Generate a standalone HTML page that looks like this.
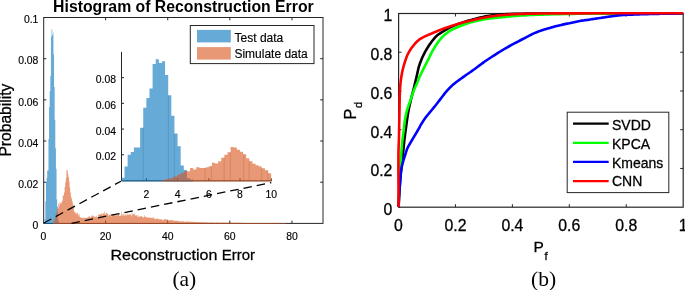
<!DOCTYPE html>
<html><head><meta charset="utf-8"><style>
html,body{margin:0;padding:0;background:#fff;}
svg{display:block;will-change:transform;}
text{font-family:"Liberation Sans",sans-serif;fill:#000;stroke:#000;stroke-width:0.28px;}
.serif{font-family:"Liberation Serif",serif;stroke:none;}
.nb{stroke:none;}
.sm{stroke-width:0.15px;}
</style></head><body>
<svg width="685" height="290" viewBox="0 0 685 290">
<rect width="685" height="290" fill="#fff"/>
<!-- LEFT MAIN HISTOGRAM -->
<rect x="43.7" y="17.5" width="279.3" height="205.9" fill="none" stroke="#262626" stroke-width="1"/>
<path d="M105.61,223.40 V220.60 M105.61,17.50 V20.30 M167.72,223.40 V220.60 M167.72,17.50 V20.30 M229.83,223.40 V220.60 M229.83,17.50 V20.30 M291.94,223.40 V220.60 M291.94,17.50 V20.30 M43.50,182.22 H46.30 M323.00,182.22 H320.20 M43.50,141.04 H46.30 M323.00,141.04 H320.20 M43.50,99.86 H46.30 M323.00,99.86 H320.20 M43.50,58.68 H46.30 M323.00,58.68 H320.20" stroke="#262626" stroke-width="1" fill="none"/>
<path d="M44.73,224.00 L44.73,219.08 L45.36,219.08 L45.36,201.14 L45.98,201.14 L45.98,182.25 L46.60,182.25 L46.60,177.77 L47.22,177.77 L47.22,170.40 L47.84,170.40 L47.84,170.40 L48.46,170.40 L48.46,139.02 L49.08,139.02 L49.08,107.00 L49.70,107.00 L49.70,91.31 L50.32,91.31 L50.32,76.10 L50.95,76.10 L50.95,36.87 L51.57,36.87 L51.57,29.19 L52.19,29.19 L52.19,35.27 L52.81,35.27 L52.81,32.55 L53.43,32.55 L53.43,54.49 L54.05,54.49 L54.05,86.99 L54.67,86.99 L54.67,119.81 L55.29,119.81 L55.29,148.15 L55.91,148.15 L55.91,168.64 L56.54,168.64 L56.54,199.38 L57.16,199.38 L57.16,206.59 L57.78,206.59 L57.78,219.72 L58.40,219.72 L58.40,221.80 L59.02,221.80 L59.02,224.00 Z" fill="#0072bd" fill-opacity="0.6"/>
<path d="M52.81,224.00 L52.81,222.60 L53.43,222.60 L53.43,221.48 L54.05,221.48 L54.05,220.20 L54.67,220.20 L54.67,218.44 L55.29,218.44 L55.29,216.68 L55.91,216.68 L55.91,213.79 L56.54,213.79 L56.54,211.39 L57.16,211.39 L57.16,208.51 L57.78,208.51 L57.78,208.51 L58.40,208.51 L58.40,203.39 L59.02,203.39 L59.02,205.63 L59.64,205.63 L59.64,202.11 L60.26,202.11 L60.26,203.39 L60.88,203.39 L60.88,203.39 L61.50,203.39 L61.50,202.11 L62.13,202.11 L62.13,200.50 L62.75,200.50 L62.75,194.90 L63.37,194.90 L63.37,196.02 L63.99,196.02 L63.99,192.50 L64.61,192.50 L64.61,187.06 L65.23,187.06 L65.23,182.25 L65.85,182.25 L65.85,178.09 L66.47,178.09 L66.47,169.92 L67.09,169.92 L67.09,170.40 L67.72,170.40 L67.72,174.09 L68.34,174.09 L68.34,177.29 L68.96,177.29 L68.96,181.45 L69.58,181.45 L69.58,187.86 L70.20,187.86 L70.20,192.50 L70.82,192.50 L70.82,196.66 L71.44,196.66 L71.44,198.90 L72.06,198.90 L72.06,201.14 L72.68,201.14 L72.68,203.87 L73.31,203.87 L73.31,207.07 L73.93,207.07 L73.93,211.87 L74.55,211.87 L74.55,212.43 L75.17,212.43 L75.17,212.00 L75.79,212.00 L75.79,214.15 L76.41,214.15 L76.41,213.55 L77.03,213.55 L77.03,212.39 L77.65,212.39 L77.65,213.46 L78.27,213.46 L78.27,215.66 L78.90,215.66 L78.90,213.93 L79.52,213.93 L79.52,217.02 L80.14,217.02 L80.14,217.73 L80.76,217.73 L80.76,217.00 L81.38,217.00 L81.38,218.06 L82.00,218.06 L82.00,217.98 L82.62,217.98 L82.62,218.06 L83.24,218.06 L83.24,218.09 L83.86,218.09 L83.86,217.68 L84.49,217.68 L84.49,218.31 L85.11,218.31 L85.11,217.94 L85.73,217.94 L85.73,217.92 L86.35,217.92 L86.35,218.10 L86.97,218.10 L86.97,217.86 L87.59,217.86 L87.59,216.99 L88.21,216.99 L88.21,216.97 L88.83,216.97 L88.83,215.90 L89.45,215.90 L89.45,216.76 L90.08,216.76 L90.08,217.19 L90.70,217.19 L90.70,217.62 L91.32,217.62 L91.32,215.82 L91.94,215.82 L91.94,215.28 L92.56,215.28 L92.56,216.05 L93.18,216.05 L93.18,215.78 L93.80,215.78 L93.80,216.69 L94.42,216.69 L94.42,216.92 L95.04,216.92 L95.04,216.51 L95.67,216.51 L95.67,217.20 L96.29,217.20 L96.29,215.67 L96.91,215.67 L96.91,217.25 L97.53,217.25 L97.53,217.60 L98.15,217.60 L98.15,215.00 L98.77,215.00 L98.77,213.96 L99.39,213.96 L99.39,214.42 L100.01,214.42 L100.01,214.28 L100.63,214.28 L100.63,214.33 L101.26,214.33 L101.26,213.17 L101.88,213.17 L101.88,215.25 L102.50,215.25 L102.50,213.43 L103.12,213.43 L103.12,213.12 L103.74,213.12 L103.74,214.18 L104.36,214.18 L104.36,211.47 L104.98,211.47 L104.98,215.34 L105.60,215.34 L105.60,213.43 L106.22,213.43 L106.22,212.73 L106.85,212.73 L106.85,213.52 L107.47,213.52 L107.47,213.42 L108.09,213.42 L108.09,215.98 L108.71,215.98 L108.71,214.69 L109.33,214.69 L109.33,214.99 L109.95,214.99 L109.95,215.07 L110.57,215.07 L110.57,213.85 L111.19,213.85 L111.19,216.41 L111.81,216.41 L111.81,214.97 L112.44,214.97 L112.44,214.47 L113.06,214.47 L113.06,214.27 L113.68,214.27 L113.68,214.72 L114.30,214.72 L114.30,215.08 L114.92,215.08 L114.92,215.22 L115.54,215.22 L115.54,215.48 L116.16,215.48 L116.16,215.32 L116.78,215.32 L116.78,215.21 L117.40,215.21 L117.40,215.20 L118.03,215.20 L118.03,214.58 L118.65,214.58 L118.65,214.54 L119.27,214.54 L119.27,215.99 L119.89,215.99 L119.89,215.53 L120.51,215.53 L120.51,215.66 L121.13,215.66 L121.13,211.54 L121.75,211.54 L121.75,215.87 L122.37,215.87 L122.37,214.13 L122.99,214.13 L122.99,213.49 L123.62,213.49 L123.62,215.44 L124.24,215.44 L124.24,215.47 L124.86,215.47 L124.86,214.56 L125.48,214.56 L125.48,214.70 L126.10,214.70 L126.10,215.57 L126.72,215.57 L126.72,212.73 L127.34,212.73 L127.34,214.67 L127.96,214.67 L127.96,214.41 L128.58,214.41 L128.58,214.96 L129.21,214.96 L129.21,213.88 L129.83,213.88 L129.83,213.95 L130.45,213.95 L130.45,214.90 L131.07,214.90 L131.07,216.51 L131.69,216.51 L131.69,211.73 L132.31,211.73 L132.31,214.55 L132.93,214.55 L132.93,214.39 L133.55,214.39 L133.55,213.97 L134.17,213.97 L134.17,213.25 L134.80,213.25 L134.80,215.91 L135.42,215.91 L135.42,214.86 L136.04,214.86 L136.04,215.47 L136.66,215.47 L136.66,214.98 L137.28,214.98 L137.28,216.94 L137.90,216.94 L137.90,215.60 L138.52,215.60 L138.52,216.73 L139.14,216.73 L139.14,216.90 L139.76,216.90 L139.76,215.97 L140.39,215.97 L140.39,216.33 L141.01,216.33 L141.01,216.26 L141.63,216.26 L141.63,216.54 L142.25,216.54 L142.25,217.15 L142.87,217.15 L142.87,217.22 L143.49,217.22 L143.49,217.49 L144.11,217.49 L144.11,215.16 L144.73,215.16 L144.73,216.93 L145.35,216.93 L145.35,216.51 L145.98,216.51 L145.98,217.55 L146.60,217.55 L146.60,217.22 L147.22,217.22 L147.22,216.94 L147.84,216.94 L147.84,217.94 L148.46,217.94 L148.46,217.85 L149.08,217.85 L149.08,217.17 L149.70,217.17 L149.70,218.05 L150.32,218.05 L150.32,217.28 L150.94,217.28 L150.94,218.24 L151.57,218.24 L151.57,217.95 L152.19,217.95 L152.19,218.17 L152.81,218.17 L152.81,217.05 L153.43,217.05 L153.43,218.14 L154.05,218.14 L154.05,218.35 L154.67,218.35 L154.67,219.01 L155.29,219.01 L155.29,219.29 L155.91,219.29 L155.91,218.77 L156.53,218.77 L156.53,218.51 L157.16,218.51 L157.16,218.16 L157.78,218.16 L157.78,219.47 L158.40,219.47 L158.40,219.06 L159.02,219.06 L159.02,219.26 L159.64,219.26 L159.64,219.25 L160.26,219.25 L160.26,219.54 L160.88,219.54 L160.88,218.89 L161.50,218.89 L161.50,219.46 L162.12,219.46 L162.12,220.15 L162.75,220.15 L162.75,220.35 L163.37,220.35 L163.37,219.84 L163.99,219.84 L163.99,219.23 L164.61,219.23 L164.61,219.35 L165.23,219.35 L165.23,219.22 L165.85,219.22 L165.85,219.60 L166.47,219.60 L166.47,219.62 L167.09,219.62 L167.09,219.57 L167.71,219.57 L167.71,219.43 L168.34,219.43 L168.34,220.81 L168.96,220.81 L168.96,220.56 L169.58,220.56 L169.58,220.06 L170.20,220.06 L170.20,220.16 L170.82,220.16 L170.82,220.11 L171.44,220.11 L171.44,220.37 L172.06,220.37 L172.06,219.78 L172.68,219.78 L172.68,220.63 L173.30,220.63 L173.30,220.61 L173.93,220.61 L173.93,220.79 L174.55,220.79 L174.55,220.74 L175.17,220.74 L175.17,220.66 L175.79,220.66 L175.79,220.27 L176.41,220.27 L176.41,220.92 L177.03,220.92 L177.03,220.81 L177.65,220.81 L177.65,220.91 L178.27,220.91 L178.27,221.23 L178.89,221.23 L178.89,221.45 L179.52,221.45 L179.52,221.31 L180.14,221.31 L180.14,221.29 L180.76,221.29 L180.76,221.47 L181.38,221.47 L181.38,221.56 L182.00,221.56 L182.00,221.64 L182.62,221.64 L182.62,220.98 L183.24,220.98 L183.24,221.25 L183.86,221.25 L183.86,221.93 L184.48,221.93 L184.48,221.68 L185.11,221.68 L185.11,221.71 L185.73,221.71 L185.73,221.61 L186.35,221.61 L186.35,221.49 L186.97,221.49 L186.97,221.60 L187.59,221.60 L187.59,221.66 L188.21,221.66 L188.21,221.86 L188.83,221.86 L188.83,221.75 L189.45,221.75 L189.45,221.37 L190.07,221.37 L190.07,221.89 L190.70,221.89 L190.70,221.85 L191.32,221.85 L191.32,221.59 L191.94,221.59 L191.94,221.68 L192.56,221.68 L192.56,221.81 L193.18,221.81 L193.18,222.07 L193.80,222.07 L193.80,221.81 L194.42,221.81 L194.42,222.00 L195.04,222.00 L195.04,222.11 L195.66,222.11 L195.66,222.15 L196.29,222.15 L196.29,222.03 L196.91,222.03 L196.91,222.05 L197.53,222.05 L197.53,222.09 L198.15,222.09 L198.15,222.10 L198.77,222.10 L198.77,222.23 L199.39,222.23 L199.39,222.28 L200.01,222.28 L200.01,222.28 L200.63,222.28 L200.63,222.20 L201.25,222.20 L201.25,221.91 L201.88,221.91 L201.88,222.34 L202.50,222.34 L202.50,222.17 L203.12,222.17 L203.12,222.18 L203.74,222.18 L203.74,222.45 L204.36,222.45 L204.36,222.30 L204.98,222.30 L204.98,222.25 L205.60,222.25 L205.60,222.35 L206.22,222.35 L206.22,222.35 L206.84,222.35 L206.84,222.38 L207.47,222.38 L207.47,222.52 L208.09,222.52 L208.09,222.49 L208.71,222.49 L208.71,222.48 L209.33,222.48 L209.33,222.66 L209.95,222.66 L209.95,222.41 L210.57,222.41 L210.57,222.49 L211.19,222.49 L211.19,222.32 L211.81,222.32 L211.81,222.47 L212.43,222.47 L212.43,222.55 L213.06,222.55 L213.06,222.72 L213.68,222.72 L213.68,222.74 L214.30,222.74 L214.30,222.59 L214.92,222.59 L214.92,222.75 L215.54,222.75 L215.54,222.69 L216.16,222.69 L216.16,222.60 L216.78,222.60 L216.78,222.59 L217.40,222.59 L217.40,222.49 L218.02,222.49 L218.02,222.53 L218.65,222.53 L218.65,222.73 L219.27,222.73 L219.27,222.56 L219.89,222.56 L219.89,222.66 L220.51,222.66 L220.51,222.76 L221.13,222.76 L221.13,222.55 L221.75,222.55 L221.75,222.63 L222.37,222.63 L222.37,222.70 L222.99,222.70 L222.99,222.57 L223.61,222.57 L223.61,222.62 L224.24,222.62 L224.24,222.73 L224.86,222.73 L224.86,222.77 L225.48,222.77 L225.48,222.84 L226.10,222.84 L226.10,222.70 L226.72,222.70 L226.72,222.73 L227.34,222.73 L227.34,222.77 L227.96,222.77 L227.96,222.68 L228.58,222.68 L228.58,222.82 L229.20,222.82 L229.20,222.87 L229.83,222.87 L229.83,222.86 L230.45,222.86 L230.45,222.80 L231.07,222.80 L231.07,222.76 L231.69,222.76 L231.69,222.83 L232.31,222.83 L232.31,222.73 L232.93,222.73 L232.93,222.80 L233.55,222.80 L233.55,222.86 L234.17,222.86 L234.17,222.80 L234.79,222.80 L234.79,222.80 L235.42,222.80 L235.42,222.75 L236.04,222.75 L236.04,222.80 L236.66,222.80 L236.66,222.85 L237.28,222.85 L237.28,222.77 L237.90,222.77 L237.90,222.91 L238.52,222.91 L238.52,222.79 L239.14,222.79 L239.14,222.86 L239.76,222.86 L239.76,222.87 L240.38,222.87 L240.38,222.84 L241.01,222.84 L241.01,222.87 L241.63,222.87 L241.63,222.88 L242.25,222.88 L242.25,222.79 L242.87,222.79 L242.87,222.80 L243.49,222.80 L243.49,222.91 L244.11,222.91 L244.11,222.85 L244.73,222.85 L244.73,222.95 L245.35,222.95 L245.35,222.94 L245.97,222.94 L245.97,222.89 L246.60,222.89 L246.60,222.91 L247.22,222.91 L247.22,222.89 L247.84,222.89 L247.84,222.94 L248.46,222.94 L248.46,222.91 L249.08,222.91 L249.08,222.89 L249.70,222.89 L249.70,222.92 L250.32,222.92 L250.32,223.01 L250.94,223.01 L250.94,222.93 L251.56,222.93 L251.56,222.98 L252.19,222.98 L252.19,222.96 L252.81,222.96 L252.81,222.92 L253.43,222.92 L253.43,222.94 L254.05,222.94 L254.05,222.94 L254.67,222.94 L254.67,222.99 L255.29,222.99 L255.29,223.11 L255.91,223.11 L255.91,223.01 L256.53,223.01 L256.53,222.94 L257.15,222.94 L257.15,222.99 L257.78,222.99 L257.78,222.98 L258.40,222.98 L258.40,222.99 L259.02,222.99 L259.02,222.93 L259.64,222.93 L259.64,223.00 L260.26,223.00 L260.26,223.01 L260.88,223.01 L260.88,223.01 L261.50,223.01 L261.50,223.02 L262.12,223.02 L262.12,222.99 L262.74,222.99 L262.74,223.09 L263.37,223.09 L263.37,223.09 L263.99,223.09 L263.99,223.06 L264.61,223.06 L264.61,223.08 L265.23,223.08 L265.23,222.97 L265.85,222.97 L265.85,223.12 L266.47,223.12 L266.47,223.13 L267.09,223.13 L267.09,223.08 L267.71,223.08 L267.71,223.05 L268.33,223.05 L268.33,223.04 L268.96,223.04 L268.96,223.15 L269.58,223.15 L269.58,223.07 L270.20,223.07 L270.20,223.09 L270.82,223.09 L270.82,223.05 L271.44,223.05 L271.44,223.14 L272.06,223.14 L272.06,223.12 L272.68,223.12 L272.68,223.11 L273.30,223.11 L273.30,223.16 L273.92,223.16 L273.92,223.19 L274.55,223.19 L274.55,223.13 L275.17,223.13 L275.17,223.11 L275.79,223.11 L275.79,223.14 L276.41,223.14 L276.41,223.09 L277.03,223.09 L277.03,223.14 L277.65,223.14 L277.65,223.14 L278.27,223.14 L278.27,223.16 L278.89,223.16 L278.89,223.16 L279.51,223.16 L279.51,223.19 L280.14,223.19 L280.14,223.15 L280.76,223.15 L280.76,223.24 L281.38,223.24 L281.38,223.17 L282.00,223.17 L282.00,223.21 L282.62,223.21 L282.62,223.21 L283.24,223.21 L283.24,223.24 L283.86,223.24 L283.86,223.31 L284.48,223.31 L284.48,223.34 L285.10,223.34 L285.10,223.38 L285.73,223.38 L285.73,223.40 L286.35,223.40 L286.35,224.00 Z" fill="#d95319" fill-opacity="0.6"/>
<text class="nb" x="53.1" y="11.7" font-size="15.6" font-weight="bold" textLength="260.6" lengthAdjust="spacingAndGlyphs">Histogram of Reconstruction Error</text>
<text x="110.4" y="259.6" font-size="15.4" textLength="106.96" lengthAdjust="spacingAndGlyphs">Reconstruction</text><text x="221.7" y="259.6" font-size="15.4" textLength="33.38" lengthAdjust="spacingAndGlyphs">Error</text>
<text transform="translate(10.8,156.6) rotate(-90)" font-size="15.64">Probability</text>
<!-- INSET -->
<rect x="121.4" y="51.9" width="150.3" height="128.6" fill="#fff"/>
<path d="M121.5,51.9 V180.8 H271.7" stroke="#262626" stroke-width="1" fill="none"/>
<path d="M146.40,180.80 V178.30 M177.60,180.80 V178.30 M208.80,180.80 V178.30 M240.00,180.80 V178.30 M271.20,180.80 V178.30 M121.50,154.78 H124.00 M121.50,129.06 H124.00 M121.50,103.34 H124.00 M121.50,77.62 H124.00" stroke="#262626" stroke-width="1" fill="none"/>
<path d="M121.40,181.40 L121.40,177.80 L124.52,177.80 L124.52,166.60 L127.64,166.60 L127.64,154.80 L130.76,154.80 L130.76,152.00 L133.88,152.00 L133.88,147.40 L137.00,147.40 L137.00,147.40 L140.12,147.40 L140.12,127.80 L143.24,127.80 L143.24,107.80 L146.36,107.80 L146.36,98.00 L149.48,98.00 L149.48,88.50 L152.60,88.50 L152.60,64.00 L155.72,64.00 L155.72,59.20 L158.84,59.20 L158.84,63.00 L161.96,63.00 L161.96,61.30 L165.08,61.30 L165.08,75.00 L168.20,75.00 L168.20,95.30 L171.32,95.30 L171.32,115.80 L174.44,115.80 L174.44,133.50 L177.56,133.50 L177.56,146.30 L180.68,146.30 L180.68,165.50 L183.80,165.50 L183.80,170.00 L186.92,170.00 L186.92,178.20 L190.04,178.20 L190.04,179.50 L193.16,179.50 L193.16,181.40 Z" fill="#0072bd" fill-opacity="0.6"/>
<path d="M161.96,181.40 L161.96,180.00 L165.08,180.00 L165.08,179.30 L168.20,179.30 L168.20,178.50 L171.32,178.50 L171.32,177.40 L174.44,177.40 L174.44,176.30 L177.56,176.30 L177.56,174.50 L180.68,174.50 L180.68,173.00 L183.80,173.00 L183.80,171.20 L186.92,171.20 L186.92,171.20 L190.04,171.20 L190.04,168.00 L193.16,168.00 L193.16,169.40 L196.28,169.40 L196.28,167.20 L199.40,167.20 L199.40,168.00 L202.52,168.00 L202.52,168.00 L205.64,168.00 L205.64,167.20 L208.76,167.20 L208.76,166.20 L211.88,166.20 L211.88,162.70 L215.00,162.70 L215.00,163.40 L218.12,163.40 L218.12,161.20 L221.24,161.20 L221.24,157.80 L224.36,157.80 L224.36,154.80 L227.48,154.80 L227.48,152.20 L230.60,152.20 L230.60,147.10 L233.72,147.10 L233.72,147.40 L236.84,147.40 L236.84,149.70 L239.96,149.70 L239.96,151.70 L243.08,151.70 L243.08,154.30 L246.20,154.30 L246.20,158.30 L249.32,158.30 L249.32,161.20 L252.44,161.20 L252.44,163.80 L255.56,163.80 L255.56,165.20 L258.68,165.20 L258.68,166.60 L261.80,166.60 L261.80,168.30 L264.92,168.30 L264.92,170.30 L268.04,170.30 L268.04,173.30 L271.16,173.30 L271.16,181.40 Z" fill="#d95319" fill-opacity="0.6"/>
<path d="M143.30,181.00 V127.80 M168.40,181.00 V95.30 M174.40,181.00 V133.50" stroke="#003a60" stroke-width="0.7" stroke-opacity="0.22" fill="none"/>
<path d="M205.20,181.00 V168.00 M211.30,181.00 V166.20 M224.20,181.00 V157.80 M230.40,181.00 V152.20 M243.70,181.00 V154.30 M249.20,181.00 V161.20 M261.70,181.00 V168.30 M267.80,181.00 V170.30" stroke="#6a2a0c" stroke-width="0.7" stroke-opacity="0.22" fill="none"/>
<!-- legend left -->
<rect x="190.3" y="25.5" width="123.7" height="38.1" fill="#fff" stroke="#262626" stroke-width="1"/>
<rect x="197.0" y="29.9" width="33.8" height="12.5" fill="#0072bd" fill-opacity="0.6"/>
<rect x="197.0" y="47.1" width="33.8" height="12.5" fill="#d95319" fill-opacity="0.6"/>
<text class="sm" x="234.6" y="41.6" font-size="12">Test data</text>
<text class="sm" x="234.4" y="57.5" font-size="12">Simulate data</text>
<!-- dashed zoom lines -->
<path d="M43.8,223.0 L121.0,181.2" stroke="#000" stroke-width="1.3" stroke-dasharray="8.5,5" fill="none"/>
<path d="M71.5,223.3 L271.3,182.6" stroke="#000" stroke-width="1.3" stroke-dasharray="8.5,5" fill="none"/>
<text class="sm" x="38.40" y="229.20" text-anchor="end" font-size="10.4">0</text>
<text class="sm" x="38.40" y="188.02" text-anchor="end" font-size="10.4">0.02</text>
<text class="sm" x="38.40" y="146.84" text-anchor="end" font-size="10.4">0.04</text>
<text class="sm" x="38.40" y="105.66" text-anchor="end" font-size="10.4">0.06</text>
<text class="sm" x="38.40" y="64.48" text-anchor="end" font-size="10.4">0.08</text>
<text class="sm" x="38.40" y="23.30" text-anchor="end" font-size="10.4">0.1</text>
<text class="sm" x="43.50" y="239.60" text-anchor="middle" font-size="10.4">0</text>
<text class="sm" x="105.61" y="239.60" text-anchor="middle" font-size="10.4">20</text>
<text class="sm" x="167.72" y="239.60" text-anchor="middle" font-size="10.4">40</text>
<text class="sm" x="229.83" y="239.60" text-anchor="middle" font-size="10.4">60</text>
<text class="sm" x="291.94" y="239.60" text-anchor="middle" font-size="10.4">80</text>
<text class="sm" x="116.00" y="160.48" text-anchor="end" font-size="10.4">0.02</text>
<text class="sm" x="116.00" y="134.76" text-anchor="end" font-size="10.4">0.04</text>
<text class="sm" x="116.00" y="109.04" text-anchor="end" font-size="10.4">0.06</text>
<text class="sm" x="116.00" y="83.32" text-anchor="end" font-size="10.4">0.08</text>
<text class="sm" x="146.40" y="197.50" text-anchor="middle" font-size="10.4">2</text>
<text class="sm" x="177.60" y="197.50" text-anchor="middle" font-size="10.4">4</text>
<text class="sm" x="208.80" y="197.50" text-anchor="middle" font-size="10.4">6</text>
<text class="sm" x="240.00" y="197.50" text-anchor="middle" font-size="10.4">8</text>
<text class="sm" x="271.20" y="197.50" text-anchor="middle" font-size="10.4">10</text>
<text x="392.40" y="215.10" text-anchor="end" font-size="15.8">0</text>
<text x="392.40" y="176.36" text-anchor="end" font-size="15.8">0.2</text>
<text x="392.40" y="137.62" text-anchor="end" font-size="15.8">0.4</text>
<text x="392.40" y="98.88" text-anchor="end" font-size="15.8">0.6</text>
<text x="392.40" y="60.14" text-anchor="end" font-size="15.8">0.8</text>
<text x="392.40" y="21.40" text-anchor="end" font-size="15.8">1</text>
<text x="398.50" y="230.90" text-anchor="middle" font-size="15.8">0</text>
<text x="455.44" y="230.90" text-anchor="middle" font-size="15.8">0.2</text>
<text x="512.38" y="230.90" text-anchor="middle" font-size="15.8">0.4</text>
<text x="569.32" y="230.90" text-anchor="middle" font-size="15.8">0.6</text>
<text x="626.26" y="230.90" text-anchor="middle" font-size="15.8">0.8</text>
<text x="683.20" y="230.90" text-anchor="middle" font-size="15.8">1</text>
<!-- RIGHT PLOT -->
<rect x="398.6" y="13.5" width="284.6" height="193.7" fill="none" stroke="#262626" stroke-width="1.2"/>
<path d="M455.44,207.20 V204.20 M455.44,13.50 V16.50 M512.38,207.20 V204.20 M512.38,13.50 V16.50 M569.32,207.20 V204.20 M569.32,13.50 V16.50 M626.26,207.20 V204.20 M626.26,13.50 V16.50 M398.50,168.46 H401.50 M683.20,168.46 H680.20 M398.50,129.72 H401.50 M683.20,129.72 H680.20 M398.50,90.98 H401.50 M683.20,90.98 H680.20 M398.50,52.24 H401.50 M683.20,52.24 H680.20" stroke="#262626" stroke-width="1" fill="none"/>
<polyline points="398.60,207.10 398.62,206.63 398.67,205.39 398.74,203.65 398.83,201.66 398.92,199.69 399.00,198.00 399.07,196.65 399.15,195.33 399.24,194.02 399.32,192.71 399.41,191.38 399.50,190.00 399.61,188.38 399.71,186.71 399.83,185.00 399.95,183.29 400.07,181.61 400.20,180.00 400.32,178.60 400.45,177.22 400.59,175.87 400.73,174.55 400.86,173.26 401.00,172.00 401.12,170.95 401.24,169.94 401.36,168.95 401.48,167.97 401.59,166.99 401.70,166.00 401.79,164.99 401.88,163.96 401.96,162.93 402.03,161.92 402.11,160.93 402.20,160.00 402.28,159.29 402.36,158.63 402.44,157.99 402.52,157.34 402.61,156.66 402.70,155.90 402.84,154.69 402.98,153.37 403.13,151.97 403.29,150.52 403.45,149.05 403.60,147.60 403.76,146.03 403.92,144.42 404.08,142.79 404.24,141.16 404.42,139.52 404.60,137.90 404.80,136.28 405.02,134.65 405.24,133.01 405.47,131.40 405.69,129.82 405.90,128.30 406.07,127.02 406.24,125.79 406.41,124.58 406.57,123.38 406.73,122.20 406.90,121.00 407.06,119.82 407.22,118.63 407.39,117.46 407.55,116.29 407.72,115.13 407.90,114.00 408.07,112.97 408.25,111.96 408.42,110.96 408.61,109.96 408.80,108.98 409.00,108.00 409.20,107.06 409.41,106.13 409.63,105.21 409.85,104.29 410.07,103.36 410.30,102.40 410.55,101.33 410.82,100.24 411.08,99.13 411.35,98.02 411.63,96.91 411.90,95.80 412.18,94.70 412.46,93.60 412.75,92.50 413.04,91.40 413.32,90.30 413.60,89.20 413.87,88.09 414.14,86.98 414.40,85.87 414.67,84.75 414.93,83.63 415.20,82.50 415.48,81.32 415.76,80.14 416.04,78.96 416.32,77.76 416.61,76.54 416.90,75.30 417.21,73.89 417.52,72.43 417.83,70.96 418.16,69.48 418.51,68.02 418.90,66.60 419.31,65.29 419.74,64.00 420.20,62.73 420.69,61.48 421.19,60.24 421.70,59.00 422.22,57.79 422.76,56.59 423.31,55.41 423.89,54.23 424.48,53.06 425.10,51.90 425.76,50.72 426.44,49.53 427.15,48.35 427.87,47.19 428.59,46.07 429.30,45.00 429.91,44.10 430.52,43.24 431.12,42.41 431.74,41.59 432.36,40.79 433.00,40.00 433.64,39.22 434.29,38.45 434.94,37.69 435.61,36.96 436.30,36.26 437.00,35.60 437.67,35.04 438.35,34.51 439.05,34.02 439.75,33.54 440.47,33.08 441.20,32.60 441.98,32.10 442.77,31.60 443.58,31.11 444.40,30.63 445.20,30.16 446.00,29.70 446.73,29.28 447.44,28.87 448.14,28.48 448.86,28.09 449.60,27.69 450.40,27.30 451.44,26.81 452.55,26.32 453.70,25.83 454.88,25.35 456.09,24.87 457.30,24.40 458.63,23.90 459.98,23.40 461.36,22.91 462.76,22.43 464.17,21.96 465.60,21.50 467.14,21.03 468.71,20.58 470.30,20.14 471.90,19.72 473.47,19.30 475.00,18.90 476.36,18.54 477.68,18.18 478.99,17.84 480.30,17.51 481.63,17.19 483.00,16.90 484.56,16.60 486.17,16.33 487.82,16.07 489.46,15.83 491.06,15.61 492.60,15.40 493.87,15.24 495.09,15.09 496.29,14.95 497.48,14.83 498.71,14.71 500.00,14.60 501.54,14.48 503.09,14.36 504.69,14.26 506.36,14.17 508.12,14.08 510.00,14.00 512.89,13.90 516.01,13.82 519.32,13.75 522.78,13.70 526.35,13.65 530.00,13.60 534.41,13.55 538.80,13.52 543.35,13.50 548.27,13.48 553.75,13.47 560.00,13.45 578.54,13.42 603.97,13.40 631.72,13.40 657.21,13.40 675.86,13.40 683.10,13.40" fill="none" stroke="#000000" stroke-width="2.6" stroke-linejoin="round"/>
<polyline points="398.60,207.10 398.61,206.47 398.65,204.82 398.70,202.49 398.76,199.84 398.83,197.23 398.90,195.00 398.97,193.28 399.05,191.60 399.14,189.94 399.23,188.30 399.31,186.66 399.40,185.00 399.48,183.33 399.57,181.67 399.65,180.00 399.73,178.33 399.82,176.67 399.90,175.00 399.98,173.31 400.06,171.60 400.14,169.89 400.23,168.20 400.31,166.56 400.40,165.00 400.48,163.76 400.56,162.56 400.64,161.40 400.73,160.26 400.81,159.13 400.90,158.00 400.98,156.95 401.06,155.92 401.14,154.91 401.22,153.89 401.31,152.82 401.40,151.70 401.52,150.22 401.63,148.67 401.76,147.07 401.89,145.42 402.04,143.76 402.20,142.10 402.40,140.29 402.63,138.44 402.87,136.56 403.12,134.69 403.37,132.83 403.60,131.00 403.80,129.29 403.99,127.57 404.18,125.87 404.37,124.20 404.58,122.57 404.80,121.00 405.01,119.70 405.22,118.43 405.44,117.20 405.68,116.00 405.93,114.80 406.20,113.60 406.48,112.45 406.77,111.31 407.08,110.18 407.41,109.05 407.75,107.93 408.10,106.80 408.49,105.65 408.90,104.50 409.33,103.34 409.76,102.19 410.19,101.05 410.60,99.90 410.98,98.77 411.34,97.64 411.70,96.51 412.06,95.39 412.42,94.28 412.80,93.20 413.17,92.22 413.54,91.25 413.92,90.31 414.31,89.37 414.70,88.43 415.10,87.50 415.52,86.55 415.97,85.58 416.42,84.62 416.86,83.68 417.26,82.80 417.60,82.00 417.78,81.53 417.92,81.11 418.04,80.72 418.17,80.32 418.31,79.89 418.50,79.40 418.91,78.44 419.40,77.34 419.96,76.15 420.54,74.92 421.13,73.69 421.70,72.50 422.25,71.35 422.82,70.19 423.38,69.04 423.95,67.89 424.52,66.74 425.10,65.60 425.68,64.46 426.26,63.33 426.85,62.20 427.44,61.07 428.02,59.94 428.60,58.80 429.17,57.65 429.72,56.50 430.27,55.35 430.83,54.19 431.40,53.04 432.00,51.90 432.64,50.73 433.31,49.56 433.99,48.38 434.69,47.23 435.39,46.10 436.10,45.00 436.76,44.01 437.42,43.05 438.09,42.11 438.77,41.18 439.47,40.28 440.20,39.40 440.94,38.55 441.69,37.72 442.46,36.90 443.25,36.11 444.06,35.34 444.90,34.60 445.76,33.88 446.64,33.17 447.54,32.49 448.47,31.84 449.42,31.21 450.40,30.60 451.48,29.99 452.59,29.42 453.74,28.88 454.90,28.35 456.09,27.83 457.30,27.30 458.63,26.71 459.98,26.12 461.35,25.53 462.75,24.96 464.17,24.41 465.60,23.90 467.12,23.40 468.66,22.94 470.23,22.50 471.81,22.08 473.40,21.69 475.00,21.30 476.64,20.92 478.30,20.56 479.97,20.22 481.65,19.90 483.33,19.59 485.00,19.30 486.64,19.03 488.25,18.78 489.87,18.55 491.51,18.33 493.21,18.12 495.00,17.90 497.31,17.63 499.73,17.37 502.23,17.11 504.80,16.86 507.39,16.63 510.00,16.40 512.85,16.17 515.76,15.95 518.72,15.74 521.69,15.55 524.66,15.37 527.60,15.20 530.52,15.05 533.45,14.92 536.39,14.80 539.30,14.69 542.18,14.59 545.00,14.50 547.48,14.42 549.81,14.35 552.12,14.28 554.51,14.22 557.10,14.16 560.00,14.10 565.39,14.00 571.37,13.91 577.89,13.82 584.88,13.74 592.27,13.66 600.00,13.60 614.03,13.53 631.63,13.47 650.06,13.44 666.60,13.41 678.52,13.40 683.10,13.40" fill="none" stroke="#00ff00" stroke-width="2.6" stroke-linejoin="round"/>
<polyline points="398.60,207.10 398.61,206.74 398.65,205.78 398.71,204.43 398.77,202.89 398.84,201.34 398.90,200.00 398.96,198.83 399.02,197.66 399.09,196.50 399.16,195.33 399.23,194.17 399.30,193.00 399.38,191.82 399.46,190.62 399.55,189.43 399.63,188.25 399.72,187.10 399.80,186.00 399.87,185.12 399.94,184.29 400.00,183.48 400.07,182.67 400.14,181.85 400.20,181.00 400.27,180.03 400.33,179.04 400.38,178.03 400.45,177.02 400.52,176.01 400.60,175.00 400.69,173.99 400.79,172.98 400.89,171.97 401.01,170.96 401.15,169.97 401.30,169.00 401.47,168.11 401.65,167.24 401.85,166.37 402.06,165.52 402.28,164.66 402.50,163.80 402.73,162.91 402.98,162.01 403.23,161.10 403.49,160.21 403.75,159.34 404.00,158.50 404.21,157.81 404.42,157.16 404.63,156.52 404.84,155.88 405.06,155.21 405.30,154.50 405.61,153.52 405.93,152.47 406.26,151.38 406.61,150.28 406.99,149.21 407.40,148.20 407.82,147.32 408.27,146.47 408.75,145.64 409.23,144.83 409.72,144.02 410.20,143.20 410.66,142.39 411.13,141.59 411.59,140.80 412.06,140.00 412.53,139.20 413.00,138.40 413.49,137.57 414.00,136.74 414.50,135.90 415.00,135.06 415.51,134.23 416.00,133.40 416.48,132.60 416.95,131.79 417.42,130.99 417.88,130.20 418.34,129.40 418.80,128.60 419.24,127.82 419.66,127.04 420.08,126.25 420.50,125.47 420.94,124.69 421.40,123.90 421.91,123.05 422.45,122.19 422.99,121.33 423.55,120.47 424.12,119.63 424.70,118.80 425.26,118.03 425.82,117.29 426.39,116.56 426.99,115.82 427.62,115.04 428.30,114.20 429.36,112.90 430.55,111.47 431.81,109.98 433.08,108.45 434.33,106.94 435.50,105.50 436.48,104.25 437.43,103.02 438.35,101.81 439.26,100.60 440.17,99.40 441.10,98.20 442.02,97.00 442.93,95.80 443.84,94.61 444.76,93.42 445.71,92.25 446.70,91.10 447.76,89.93 448.84,88.77 449.95,87.63 451.09,86.51 452.27,85.40 453.50,84.30 454.88,83.15 456.30,82.03 457.78,80.93 459.29,79.83 460.83,78.73 462.40,77.60 464.19,76.33 466.03,75.05 467.92,73.75 469.82,72.45 471.72,71.13 473.60,69.80 475.47,68.43 477.33,67.04 479.19,65.63 481.05,64.22 482.92,62.84 484.80,61.50 486.67,60.22 488.54,58.96 490.43,57.72 492.32,56.50 494.21,55.30 496.10,54.10 497.96,52.93 499.82,51.77 501.68,50.63 503.55,49.50 505.42,48.39 507.30,47.30 509.18,46.25 511.08,45.21 512.99,44.20 514.88,43.20 516.72,42.24 518.50,41.30 519.98,40.52 521.42,39.76 522.82,39.02 524.20,38.30 525.56,37.59 526.90,36.90 528.09,36.28 529.24,35.67 530.38,35.08 531.51,34.49 532.65,33.93 533.80,33.40 534.94,32.90 536.09,32.43 537.23,31.97 538.39,31.53 539.54,31.11 540.70,30.70 541.84,30.32 542.99,29.95 544.14,29.61 545.30,29.27 546.45,28.94 547.60,28.60 548.75,28.26 549.90,27.92 551.05,27.58 552.20,27.24 553.35,26.92 554.50,26.60 555.65,26.30 556.80,26.00 557.95,25.72 559.10,25.44 560.25,25.17 561.40,24.90 562.55,24.64 563.70,24.38 564.85,24.13 566.00,23.89 567.15,23.64 568.30,23.40 569.45,23.16 570.60,22.93 571.75,22.69 572.90,22.46 574.05,22.23 575.20,22.00 576.35,21.76 577.50,21.51 578.65,21.27 579.80,21.03 580.95,20.80 582.10,20.60 583.25,20.42 584.40,20.27 585.55,20.13 586.70,20.00 587.85,19.86 589.00,19.70 590.16,19.53 591.33,19.34 592.49,19.15 593.65,18.96 594.79,18.77 595.90,18.60 596.88,18.46 597.83,18.32 598.76,18.20 599.69,18.07 600.63,17.94 601.60,17.80 602.66,17.64 603.73,17.47 604.82,17.30 605.91,17.13 607.01,16.96 608.10,16.80 609.20,16.64 610.30,16.48 611.40,16.33 612.50,16.18 613.60,16.04 614.70,15.90 615.77,15.77 616.82,15.65 617.86,15.53 618.93,15.41 620.07,15.30 621.30,15.20 623.22,15.06 625.33,14.93 627.57,14.81 629.86,14.70 632.16,14.60 634.40,14.50 636.60,14.41 638.80,14.34 641.00,14.27 643.20,14.21 645.40,14.16 647.60,14.10 649.75,14.04 651.84,13.99 653.93,13.94 656.08,13.89 658.32,13.85 660.70,13.80 664.61,13.74 669.38,13.67 674.33,13.61 678.73,13.55 681.89,13.51 683.10,13.50" fill="none" stroke="#0000ff" stroke-width="2.6" stroke-linejoin="round"/>
<polyline points="398.60,207.10 398.59,206.27 398.58,204.05 398.56,200.89 398.54,197.21 398.52,193.43 398.50,190.00 398.48,186.03 398.46,181.78 398.43,177.40 398.41,173.04 398.40,168.85 398.40,165.00 398.40,162.24 398.41,159.61 398.41,157.07 398.43,154.63 398.46,152.28 398.50,150.00 398.55,148.24 398.62,146.59 398.69,145.00 398.77,143.41 398.84,141.76 398.90,140.00 398.96,137.68 399.02,135.22 399.06,132.69 399.11,130.11 399.15,127.54 399.20,125.00 399.25,122.48 399.30,119.94 399.36,117.40 399.41,114.88 399.45,112.40 399.50,110.00 399.53,107.91 399.56,105.86 399.59,103.85 399.62,101.87 399.65,99.92 399.70,98.00 399.75,96.27 399.80,94.56 399.85,92.87 399.92,91.22 400.00,89.59 400.10,88.00 400.20,86.62 400.32,85.27 400.44,83.96 400.58,82.65 400.73,81.33 400.90,80.00 401.09,78.59 401.30,77.17 401.52,75.74 401.76,74.31 402.02,72.90 402.30,71.50 402.60,70.16 402.92,68.84 403.26,67.53 403.62,66.23 404.00,64.92 404.40,63.60 404.83,62.20 405.29,60.77 405.76,59.34 406.25,57.93 406.77,56.57 407.30,55.30 407.77,54.29 408.26,53.31 408.77,52.37 409.28,51.47 409.79,50.61 410.30,49.80 410.71,49.18 411.11,48.60 411.51,48.05 411.93,47.52 412.35,46.97 412.80,46.40 413.34,45.71 413.89,45.00 414.47,44.27 415.06,43.56 415.67,42.86 416.30,42.20 416.94,41.58 417.59,40.98 418.25,40.41 418.94,39.85 419.66,39.31 420.40,38.80 421.24,38.28 422.11,37.79 423.02,37.32 423.95,36.87 424.88,36.43 425.80,36.00 426.72,35.58 427.65,35.17 428.59,34.77 429.53,34.39 430.46,34.00 431.40,33.60 432.34,33.20 433.28,32.79 434.23,32.38 435.17,31.98 436.09,31.58 437.00,31.20 437.79,30.87 438.56,30.55 439.31,30.24 440.08,29.93 440.87,29.62 441.70,29.30 442.77,28.91 443.91,28.50 445.08,28.09 446.27,27.69 447.45,27.29 448.60,26.90 449.68,26.54 450.75,26.18 451.81,25.83 452.87,25.48 453.93,25.14 455.00,24.80 456.05,24.47 457.09,24.15 458.14,23.83 459.19,23.52 460.28,23.21 461.40,22.90 462.76,22.54 464.18,22.19 465.64,21.84 467.11,21.49 468.57,21.14 470.00,20.80 471.35,20.47 472.69,20.15 474.02,19.82 475.34,19.51 476.67,19.20 478.00,18.90 479.33,18.61 480.66,18.33 482.00,18.06 483.33,17.80 484.66,17.55 486.00,17.30 487.33,17.06 488.66,16.83 490.00,16.61 491.33,16.39 492.66,16.19 494.00,16.00 495.33,15.82 496.66,15.66 498.00,15.51 499.33,15.36 500.67,15.23 502.00,15.10 503.32,14.98 504.63,14.87 505.94,14.77 507.27,14.68 508.61,14.59 510.00,14.50 511.58,14.40 513.18,14.31 514.80,14.23 516.48,14.15 518.20,14.07 520.00,14.00 522.28,13.92 524.63,13.84 527.07,13.77 529.61,13.71 532.24,13.65 535.00,13.60 538.58,13.54 542.16,13.50 545.92,13.47 550.03,13.45 554.66,13.42 560.00,13.40 577.97,13.35 603.24,13.32 631.11,13.31 656.85,13.30 675.75,13.30 683.10,13.30" fill="none" stroke="#ff0000" stroke-width="2.6" stroke-linejoin="round"/>
<!-- legend right -->
<rect x="567.2" y="112.2" width="101.6" height="80.4" fill="#fff" stroke="#262626" stroke-width="1"/>
<path d="M573,123.6 H608.7" stroke="#000" stroke-width="2.2"/>
<path d="M573,142.8 H608.7" stroke="#00ff00" stroke-width="2.2"/>
<path d="M573,161.8 H608.7" stroke="#0000ff" stroke-width="2.2"/>
<path d="M573,181.2 H608.7" stroke="#ff0000" stroke-width="2.2"/>
<text x="612.0" y="129.6" font-size="14">SVDD</text>
<text x="612.0" y="148.6" font-size="14">KPCA</text>
<text x="612.0" y="167.5" font-size="14">Kmeans</text>
<text x="612.0" y="186.4" font-size="14">CNN</text>
<!-- axis labels right -->
<text x="533.5" y="252.4" font-size="15.5">P</text>
<text x="544.4" y="259.6" font-size="11.3">f</text>
<text transform="translate(355.8,119.6) rotate(-90)" font-size="16.2">P</text>
<text transform="translate(362.2,108.0) rotate(-90)" font-size="11">d</text>
<!-- captions -->
<text class="serif" x="172.4" y="286.0" font-size="21.5">(a)</text>
<text class="serif" x="531.0" y="286.0" font-size="21.5">(b)</text>
</svg>
</body></html>
